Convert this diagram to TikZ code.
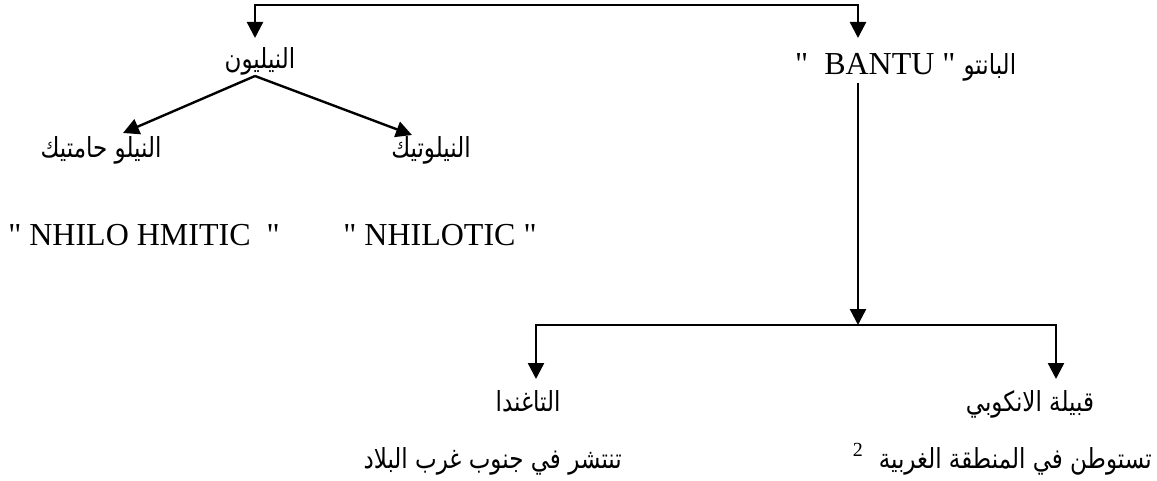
\documentclass[tikz,border=0pt]{standalone}
\usepackage{fontspec}
\setmainfont{Liberation Serif}
\newfontfamily\arabicfont[Script=Arabic]{DejaVu Sans}
\TeXXeTstate=1
\usetikzlibrary{arrows.meta}
% Arabic text, right to left, slightly stretched upward like a naskh face
\newcommand{\artxt}[1]{\scalebox{1}[1.2]{\arabicfont\fontsize{23}{27}\selectfont\beginR #1\endR}}
\newcommand{\dq}{\textquotedbl}
\begin{document}
\begin{tikzpicture}[x=1pt,y=-1pt,
  arr/.style={line width=2.4pt,-{Triangle[length=16pt,width=16pt]}},
  twoarr/.style={line width=2.4pt,{Triangle[length=16pt,width=16pt]}-{Triangle[length=16pt,width=16pt]}},
  lbl/.style={inner sep=0pt,anchor=base,font=\fontsize{32}{38}\selectfont}]
\useasboundingbox (0,0) rectangle (1157,481);

% text nodes
\node[lbl] (nil) at (260,69) {\artxt{النيليون}};
\node[lbl,anchor=base west] (bantu) at (795,75) {\dq\ \ BANTU \dq\ \artxt{البانتو}};
\node[lbl] (nham) at (101,158) {\artxt{النيلو حامتيك}};
\node[lbl] (nilo) at (431,158) {\artxt{النيلوتيك}};
\node[lbl] (nhamlat) at (144,246) {\dq\ NHILO HMITIC\ \ \dq};
\node[lbl] (nilolat) at (440,246) {\dq\ NHILOTIC \dq};
\node[lbl] (tag) at (528,411) {\artxt{التاغندا}};
\node[lbl] (ank) at (1030,411) {\artxt{قبيلة الانكوبي}};
\node[lbl,anchor=base east] (tagnote) at (622,468) {\artxt{تنتشر في جنوب غرب البلاد}};
\node[lbl,anchor=base east] (anknote) at (1152,468)
  {\raisebox{12pt}{\fontsize{20}{22}\selectfont 2}\ \ \artxt{تستوطن في المنطقة الغربية}};

% connector points
\coordinate (top) at (556,5);
\coordinate (nilin) at (255,38);
\coordinate (bantuin) at (858,38);
\coordinate (nilout) at (255,76);
\coordinate (nhamin) at (123,133);
\coordinate (niloin) at (412,135);
\coordinate (bantuout) at (858,83);
\coordinate (split) at (858,325);
\coordinate (tagin) at (536,379);
\coordinate (ankin) at (1056,379);

% connectors
\draw[twoarr] (nilin) |- (top) -| (bantuin);
\draw[arr] (nilout) -- (nhamin);
\draw[arr] (nilout) -- (niloin);
\draw[arr] (bantuout) -- (split);
\draw[twoarr] (tagin) |- (split) -| (ankin);
\end{tikzpicture}
\end{document}
